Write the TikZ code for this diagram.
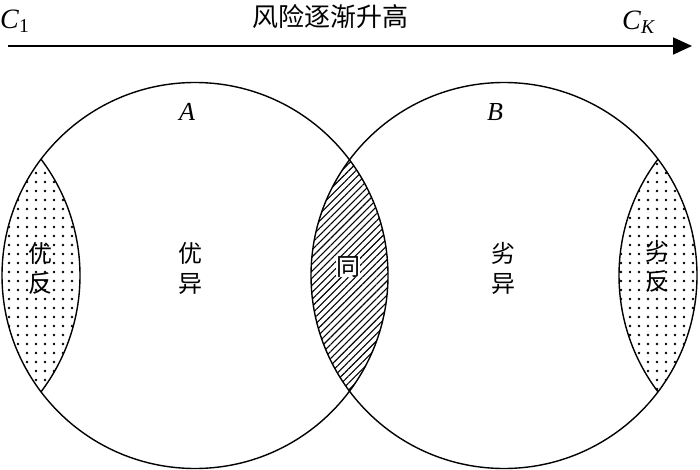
\documentclass[tikz,border=0pt]{standalone}
\usepackage{fontspec}
\setmainfont{Liberation Serif}
\newfontfamily\cjk{Noto Sans CJK SC}
\usetikzlibrary{patterns.meta,arrows.meta}
\begin{document}
\begin{tikzpicture}[x=1pt,y=-1pt,
  outline/.style={line width=1.4pt},
  dotfill/.style={pattern={Dots[distance=9pt,radius=1.4pt]}},
  hatchfill/.style={pattern={Lines[angle=45,distance=5pt,line width=1.1pt]}},
  cjklabel/.style={font=\cjk\fontsize{24}{30}\selectfont,align=center,inner sep=0pt},
  letter/.style={font=\fontsize{26}{26}\selectfont\itshape,inner sep=0pt}]
\useasboundingbox (0,0) rectangle (700,470);
\fill[white] (0,0) rectangle (700,470);
% centres
\coordinate (cA) at (195,275.5);
\coordinate (cB) at (504,275.5);
\coordinate (cL) at (-113,275.5);
\coordinate (cR) at (812,275.5);
% hatched intersection
\begin{scope}
  \clip (cA) circle[radius=193];
  \fill[hatchfill] (cB) circle[radius=193];
\end{scope}
% left lens
\begin{scope}
  \clip (cA) circle[radius=193];
  \fill[dotfill] (cL) circle[radius=193];
  \draw[outline] (cL) circle[radius=193];
\end{scope}
% right lens
\begin{scope}
  \clip (cB) circle[radius=193];
  \fill[dotfill] (cR) circle[radius=193];
  \draw[outline] (cR) circle[radius=193];
\end{scope}
\draw[outline] (cA) circle[radius=193];
\draw[outline] (cB) circle[radius=193];
% arrow
\coordinate (s) at (8,46);
\coordinate (e) at (692,46);
\draw[line width=1.8pt,-{Triangle[length=19pt,width=17pt]}] (s) -- (e);
\node[font=\cjk\fontsize{26}{26}\selectfont,inner sep=0pt] (title) at (330,17) {风险逐渐升高};
\node[font=\fontsize{28}{28}\selectfont,inner sep=0pt,anchor=west] (c1) at (0,21) {\textit{C}\textsubscript{1}};
\node[font=\fontsize{28}{28}\selectfont,inner sep=0pt,anchor=west] (ck) at (622,22) {\textit{C}\textsubscript{\textit{K}}};
% labels
\node[letter] (lA) at (187,112) {A};
\node[letter] (lB) at (495,112) {B};
\node[cjklabel] (ya) at (190,268) {优\\异};
\node[cjklabel] (la) at (503,268) {劣\\异};
\node[cjklabel] (yf) at (40,268) {优\\反};
\node[cjklabel] (lf) at (657,266) {劣\\反};
\node[cjklabel,fill=white,inner sep=0pt] (tong) at (348,267) {同};
\end{tikzpicture}
\end{document}
